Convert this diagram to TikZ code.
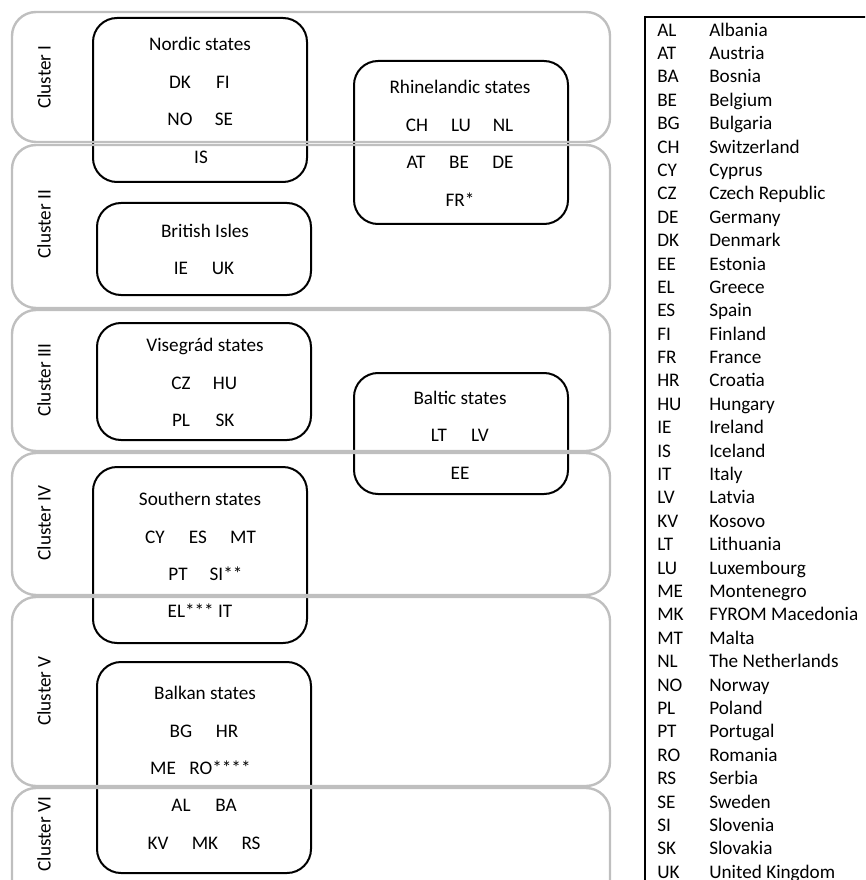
\documentclass[tikz,border=0pt]{standalone}
\usepackage{fontspec}
\setmainfont{Carlito}

\tikzset{
  cluster/.style={draw=black!25, line width=1.8pt, rounded corners=18pt},
  group/.style={draw=black, line width=1.5pt, rounded corners=18pt},
  cname/.style={rotate=90, inner sep=0pt},
  lbl/.style={inner sep=0pt, anchor=base, yshift=-4.6pt},
  legab/.style={inner sep=0pt, anchor=base west, yshift=-4.6pt},
}

\begin{document}
\begin{tikzpicture}[x=0.75pt, y=-0.75pt, font=\fontsize{14.4}{17}\selectfont]
    \useasboundingbox (0,0) rectangle (865,880);
    \clip (0,0) rectangle (865,880);

    % Groups of states (black)
    \draw[group] (93,18) rectangle (307,182);   % Nordic
    \draw[group] (97,203) rectangle (311,295);  % British Isles
    \draw[group] (354,61) rectangle (568,224);  % Rhinelandic
    \draw[group] (97,323) rectangle (311,440);  % Visegrad
    \draw[group] (354,373) rectangle (568,494); % Baltic
    \draw[group] (93,467) rectangle (307,643);  % Southern
    \draw[group] (97,662) rectangle (311,873);  % Balkan

    % Clusters (grey)
    \draw[cluster] (12,12) rectangle (610,142);
    \draw[cluster] (12,145) rectangle (610,308);
    \draw[cluster] (12,310) rectangle (610,451);
    \draw[cluster] (12,453) rectangle (610,595);
    \draw[cluster] (12,597) rectangle (610,786);
    \draw[cluster] (12,788) rectangle (610,930);

    \node[cname] (c1) at (44,77) {Cluster I};
    \node[cname] (c2) at (44,224) {Cluster II};
    \node[cname] (c3) at (44,380) {Cluster III};
    \node[cname] (c4) at (44,523) {Cluster IV};
    \node[cname] (c5) at (44,691) {Cluster V};
    \node[cname] (c6) at (44,834) {Cluster VI};

    % Nordic states
    \node[lbl] (nordic) at (200,44) {Nordic states};
    \node[lbl] (DK) at (180,82) {DK};
    \node[lbl] (FI) at (223,82) {FI};
    \node[lbl] (NO) at (180,119) {NO};
    \node[lbl] (SE) at (224,119) {SE};
    \node[lbl] (IS) at (201,157) {IS};

    % British Isles
    \node[lbl] (british) at (205,231) {British Isles};
    \node[lbl] (IE) at (181,268) {IE};
    \node[lbl] (UK) at (223,268) {UK};

    % Rhinelandic states
    \node[lbl] (rhine) at (460,87) {Rhinelandic states};
    \node[lbl] (CH) at (417,125) {CH};
    \node[lbl] (LU) at (461,125) {LU};
    \node[lbl] (NL) at (503,125) {NL};
    \node[lbl] (AT) at (416,162) {AT};
    \node[lbl] (BE) at (459,162) {BE};
    \node[lbl] (DE) at (503,162) {DE};
    \node[lbl] (FR) at (460,200) {FR*};

    % Visegrad states
    \node[lbl] (visegrad) at (205,345) {Visegrád states};
    \node[lbl] (CZ) at (181,383) {CZ};
    \node[lbl] (HU) at (225,383) {HU};
    \node[lbl] (PL) at (181,420) {PL};
    \node[lbl] (SK) at (225,420) {SK};

    % Baltic states
    \node[lbl] (baltic) at (460,398) {Baltic states};
    \node[lbl] (LT) at (439,435) {LT};
    \node[lbl] (LV) at (480,435) {LV};
    \node[lbl] (EE) at (460,473) {EE};

    % Southern states
    \node[lbl] (southern) at (200,499) {Southern states};
    \node[lbl] (CY) at (155,537) {CY};
    \node[lbl] (ES) at (198,537) {ES};
    \node[lbl] (MT) at (243,537) {MT};
    \node[lbl] (PT) at (178,574) {PT};
    \node[lbl] (SI) at (226,574) {SI**};
    \node[lbl] (ELIT) at (200,611) {EL*** IT};

    % Balkan states
    \node[lbl] (balkan) at (205,693) {Balkan states};
    \node[lbl] (BG) at (181,731) {BG};
    \node[lbl] (HR) at (227,731) {HR};
    \node[lbl] (ME) at (163,768) {ME};
    \node[lbl] (RO) at (220,768) {RO****};
    \node[lbl] (AL) at (181,805) {AL};
    \node[lbl] (BA) at (226,805) {BA};
    \node[lbl] (KV) at (158,843) {KV};
    \node[lbl] (MK) at (205,843) {MK};
    \node[lbl] (RS) at (251,843) {RS};

    % Legend
    \draw[line width=0.9pt] (645,17) rectangle (900,930);
    \foreach \ab/\nm [count=\i] in {AL/Albania, AT/Austria, BA/Bosnia,
        BE/Belgium, BG/Bulgaria, CH/Switzerland, CY/Cyprus,
        CZ/Czech Republic, DE/Germany, DK/Denmark, EE/Estonia, EL/Greece,
        ES/Spain, FI/Finland, FR/France, HR/Croatia, HU/Hungary,
        IE/Ireland, IS/Iceland, IT/Italy, LV/Latvia, KV/Kosovo,
        LT/Lithuania, LU/Luxembourg, ME/Montenegro, MK/FYROM Macedonia,
        MT/Malta, NL/The Netherlands, NO/Norway, PL/Poland, PT/Portugal,
        RO/Romania, RS/Serbia, SE/Sweden, SI/Slovenia, SK/Slovakia,
        UK/United Kingdom} {
        \node[legab] (ab\i) at (657, {30+23.39*(\i-1)}) {\ab};
        \node[legab] (nm\i) at (709, {30+23.39*(\i-1)}) {\nm};
    }
\end{tikzpicture}
\end{document}
